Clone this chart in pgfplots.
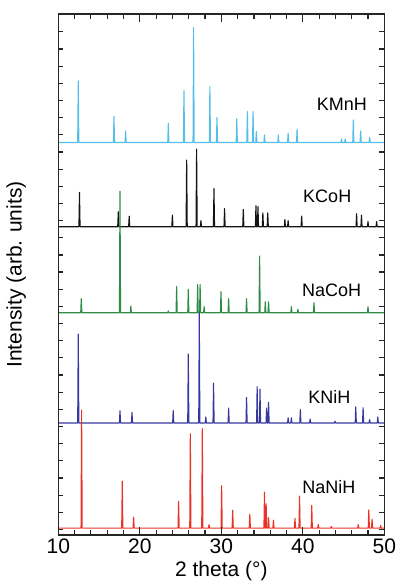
\documentclass[border=0pt]{standalone}
\usepackage{pgfplots}
\usepackage{pgfplotstable}
\pgfplotsset{compat=1.18}
\usepackage{fontspec}
\setmainfont{Liberation Sans}

\definecolor{cmn}{RGB}{86,190,235}
\definecolor{cco}{RGB}{20,20,20}
\definecolor{naco}{RGB}{46,140,70}
\definecolor{kni}{RGB}{55,55,160}
\definecolor{nani}{RGB}{232,52,40}

% peak lists: x, height above baseline
\pgfplotstableread[row sep=\\]{
x h\\
10 0\\
12.38 0\\ 12.45 3.55\\ 12.52 0\\
16.76 0\\ 16.83 1.5\\ 16.90 0\\
18.19 0\\ 18.26 0.67\\ 18.33 0\\
23.43 0\\ 23.5 1.11\\ 23.57 0\\
25.35 0\\ 25.42 2.98\\ 25.49 0\\
26.53 0\\ 26.6 6.62\\ 26.67 0\\
28.53 0\\ 28.6 3.22\\ 28.67 0\\
29.40 0\\ 29.47 1.44\\ 29.54 0\\
31.83 0\\ 31.9 1.36\\ 31.97 0\\
33.13 0\\ 33.2 1.78\\ 33.27 0\\
33.83 0\\ 33.9 1.78\\ 33.97 0\\
34.23 0\\ 34.3 0.63\\ 34.37 0\\
35.23 0\\ 35.3 0.44\\ 35.37 0\\
36.93 0\\ 37.0 0.44\\ 37.07 0\\
38.13 0\\ 38.2 0.54\\ 38.27 0\\
39.23 0\\ 39.3 0.77\\ 39.37 0\\
44.68 0\\ 44.75 0.2\\ 44.82 0\\
45.13 0\\ 45.2 0.2\\ 45.27 0\\
46.13 0\\ 46.2 1.3\\ 46.27 0\\
47.03 0\\ 47.1 0.67\\ 47.17 0\\
48.13 0\\ 48.2 0.29\\ 48.27 0\\
50 0\\
}\kmnh
\pgfplotstableread[row sep=\\]{
x h\\
10 0\\
12.53 0\\ 12.6 1.98\\ 12.67 0\\
17.29 0\\ 17.36 0.86\\ 17.43 0\\
18.63 0\\ 18.7 0.61\\ 18.77 0\\
23.93 0\\ 24.0 0.67\\ 24.07 0\\
25.68 0\\ 25.75 3.84\\ 25.82 0\\
26.90 0\\ 26.97 4.47\\ 27.04 0\\
27.43 0\\ 27.5 0.35\\ 27.57 0\\
29.03 0\\ 29.1 2.2\\ 29.17 0\\
30.33 0\\ 30.4 1.05\\ 30.47 0\\
32.63 0\\ 32.7 1.0\\ 32.77 0\\
34.18 0\\ 34.25 1.21\\ 34.32 0\\
34.43 0\\ 34.5 1.16\\ 34.57 0\\
35.03 0\\ 35.1 0.8\\ 35.17 0\\
35.63 0\\ 35.7 0.8\\ 35.77 0\\
37.73 0\\ 37.8 0.42\\ 37.87 0\\
38.13 0\\ 38.2 0.35\\ 38.27 0\\
39.79 0\\ 39.86 0.61\\ 39.93 0\\
46.53 0\\ 46.6 0.75\\ 46.67 0\\
47.13 0\\ 47.2 0.67\\ 47.27 0\\
47.93 0\\ 48.0 0.3\\ 48.07 0\\
48.99 0\\ 49.06 0.3\\ 49.13 0\\
50 0\\
}\kcoh
\pgfplotstableread[row sep=\\]{
x h\\
10 0\\
12.75 0\\ 12.82 0.81\\ 12.89 0\\
17.50 0\\ 17.57 7.0\\ 17.64 0\\
18.83 0\\ 18.9 0.38\\ 18.97 0\\
23.43 0\\ 23.5 0.1\\ 23.57 0\\
24.45 0\\ 24.52 1.5\\ 24.59 0\\
25.88 0\\ 25.95 1.34\\ 26.02 0\\
27.03 0\\ 27.1 1.63\\ 27.17 0\\
27.33 0\\ 27.4 1.63\\ 27.47 0\\
27.83 0\\ 27.9 0.35\\ 27.97 0\\
29.89 0\\ 29.96 1.21\\ 30.03 0\\
30.83 0\\ 30.9 0.81\\ 30.97 0\\
33.03 0\\ 33.1 0.81\\ 33.17 0\\
34.63 0\\ 34.7 3.26\\ 34.77 0\\
35.33 0\\ 35.4 0.63\\ 35.47 0\\
35.73 0\\ 35.8 0.63\\ 35.87 0\\
38.53 0\\ 38.6 0.35\\ 38.67 0\\
39.33 0\\ 39.4 0.2\\ 39.47 0\\
41.30 0\\ 41.37 0.58\\ 41.44 0\\
47.93 0\\ 48.0 0.35\\ 48.07 0\\
50 0\\
}\nacoh
\pgfplotstableread[row sep=\\]{
x h\\
10 0\\
12.38 0\\ 12.45 5.12\\ 12.52 0\\
17.50 0\\ 17.57 0.71\\ 17.64 0\\
18.97 0\\ 19.04 0.61\\ 19.11 0\\
24.03 0\\ 24.1 0.71\\ 24.17 0\\
25.88 0\\ 25.95 3.97\\ 26.02 0\\
27.23 0\\ 27.3 6.33\\ 27.37 0\\
28.03 0\\ 28.1 0.35\\ 28.17 0\\
28.98 0\\ 29.05 2.3\\ 29.12 0\\
30.83 0\\ 30.9 0.86\\ 30.97 0\\
33.03 0\\ 33.1 1.47\\ 33.17 0\\
34.33 0\\ 34.4 2.1\\ 34.47 0\\
34.68 0\\ 34.75 1.95\\ 34.82 0\\
35.49 0\\ 35.56 0.86\\ 35.63 0\\
35.73 0\\ 35.8 1.19\\ 35.87 0\\
38.13 0\\ 38.2 0.3\\ 38.27 0\\
38.53 0\\ 38.6 0.3\\ 38.67 0\\
39.63 0\\ 39.7 0.77\\ 39.77 0\\
40.83 0\\ 40.9 0.23\\ 40.97 0\\
43.88 0\\ 43.95 0.1\\ 44.02 0\\
46.43 0\\ 46.5 0.92\\ 46.57 0\\
47.33 0\\ 47.4 0.88\\ 47.47 0\\
48.13 0\\ 48.2 0.2\\ 48.27 0\\
49.13 0\\ 49.2 0.35\\ 49.27 0\\
50 0\\
}\knih
\pgfplotstableread[row sep=\\]{
x h\\
10 0\\
12.79 0\\ 12.86 6.8\\ 12.93 0\\
17.78 0\\ 17.85 2.7\\ 17.92 0\\
19.17 0\\ 19.24 0.63\\ 19.31 0\\
24.69 0\\ 24.76 1.54\\ 24.83 0\\
26.13 0\\ 26.2 5.43\\ 26.27 0\\
27.60 0\\ 27.67 5.72\\ 27.74 0\\
28.43 0\\ 28.5 0.2\\ 28.57 0\\
29.97 0\\ 30.04 2.44\\ 30.11 0\\
31.33 0\\ 31.4 1.02\\ 31.47 0\\
33.43 0\\ 33.5 0.8\\ 33.57 0\\
35.23 0\\ 35.3 2.06\\ 35.37 0\\
35.43 0\\ 35.5 1.4\\ 35.57 0\\
35.73 0\\ 35.8 0.6\\ 35.87 0\\
36.33 0\\ 36.4 0.45\\ 36.47 0\\
38.97 0\\ 39.04 0.55\\ 39.11 0\\
39.53 0\\ 39.6 1.84\\ 39.67 0\\
41.03 0\\ 41.1 1.3\\ 41.17 0\\
41.83 0\\ 41.9 0.2\\ 41.97 0\\
43.43 0\\ 43.5 0.1\\ 43.57 0\\
46.73 0\\ 46.8 0.2\\ 46.87 0\\
48.03 0\\ 48.1 1.05\\ 48.17 0\\
48.43 0\\ 48.5 0.5\\ 48.57 0\\
49.48 0\\ 49.55 0.15\\ 49.62 0\\
50 0\\
}\nanih

\begin{document}
\begin{tikzpicture}
\begin{axis}[
    scale only axis, width=326pt, height=521pt,
    xmin=10, xmax=50, ymin=0, ymax=30,
    xtick={10,12,...,50}, xticklabels={},
    extra x ticks={10,20,30,40,50},
    extra x tick style={major tick length=8pt},
    ytick={0.32,1.308,...,29.1}, yticklabels={},
    tick align=inside, xtick pos=both, ytick pos=both,
    major tick length=5pt,
    axis on top,
    axis line style={line width=1.3pt, black!85},
    major tick style={line width=1.2pt, black!85},
    tick label style={font=\fontsize{21}{24}\selectfont},
    /pgf/number format/assume math mode=true,
    xlabel={2 theta (°)}, ylabel={Intensity (arb. units)},
    label style={font=\fontsize{21}{24}\selectfont},
    xlabel style={yshift=-1pt},
    ylabel style={yshift=22pt},
    every axis plot/.append style={line width=1.1pt, line join=round, no markers},
    clip=true,
]
\addplot[cmn] table[x=x, y expr=\thisrow{h}+22.6] {\kmnh};
\addplot[cco] table[x=x, y expr=\thisrow{h}+17.75] {\kcoh};
\addplot[naco] table[x=x, y expr=\thisrow{h}+12.8] {\nacoh};
\addplot[kni] table[x=x, y expr=\thisrow{h}+6.45] {\knih};
\addplot[nani] table[x=x, y expr=\thisrow{h}+0.4] {\nanih};
\begin{scope}[every node/.style={font=\fontsize{18}{20}\selectfont}]
\node at (axis cs:44.8,24.8) {KMnH};
\node at (axis cs:43.0,19.48) {KCoH};
\node at (axis cs:43.55,14.07) {NaCoH};
\node at (axis cs:43.27,7.96) {KNiH};
\node at (axis cs:43.2,2.75) {NaNiH};
\end{scope}
\end{axis}
\pgfresetboundingbox
\path[use as bounding box] ([shift={(-58.3pt,-47pt)}]current axis.south west) rectangle ([shift={(15.7pt,14pt)}]current axis.north east);
\end{tikzpicture}
\end{document}
